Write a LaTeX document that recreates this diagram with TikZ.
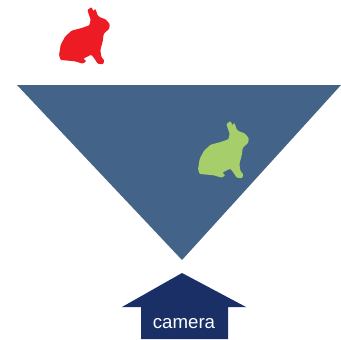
\documentclass[tikz,border=0pt]{standalone}
\usepackage{fontspec}
\setmainfont{Liberation Sans}
\definecolor{conecol}{HTML}{446388}
\definecolor{arrowcol}{HTML}{1A2F66}
\definecolor{redrab}{HTML}{ED1C24}
\definecolor{greenrab}{HTML}{A6CE6B}
\tikzset{
  x=0.75pt,y=-0.75pt,
  rabbit/.pic={
    \fill[pic actions,rounded corners=0.7pt] (142,30) -- (155,21) -- (160,34) -- (166,26) -- (173,46) -- (180,52) -- (197,58) -- (209,72) -- (208,86) -- (197,96) -- (191,102) -- (188,125) -- (181,150) -- (184,170) -- (193,182) -- (189,193) -- (173,191) -- (165,178) -- (154,164) -- (142,170) -- (130,176) -- (139,184) -- (128,191) -- (105,184) -- (85,182) -- (62,180) -- (57,166) -- (62,135) -- (75,110) -- (95,92) -- (125,84) -- (148,76) -- (152,60) -- (147,45) -- cycle;
  }
}
\begin{document}
\begin{tikzpicture}
\useasboundingbox (0,0) rectangle (341,339);
\fill[conecol] (17,85) -- (341,85) -- (182,260) -- cycle;
\coordinate (redpos) at (40,0);
\coordinate (greenpos) at (179,114);
\pic[fill=redrab,x=0.25pt,y=-0.25pt] at (redpos) {rabbit};
\pic[fill=greenrab,x=0.25pt,y=-0.25pt] at (greenpos) {rabbit};
\fill[arrowcol] (182,273) -- (246,307) -- (228,307) -- (228,339) -- (141,339) -- (141,307) -- (122,307) -- cycle;
\node[text=white,font=\fontsize{14}{16}\selectfont,inner sep=0pt] (camlabel) at (184,324) {camera};
\end{tikzpicture}
\end{document}
